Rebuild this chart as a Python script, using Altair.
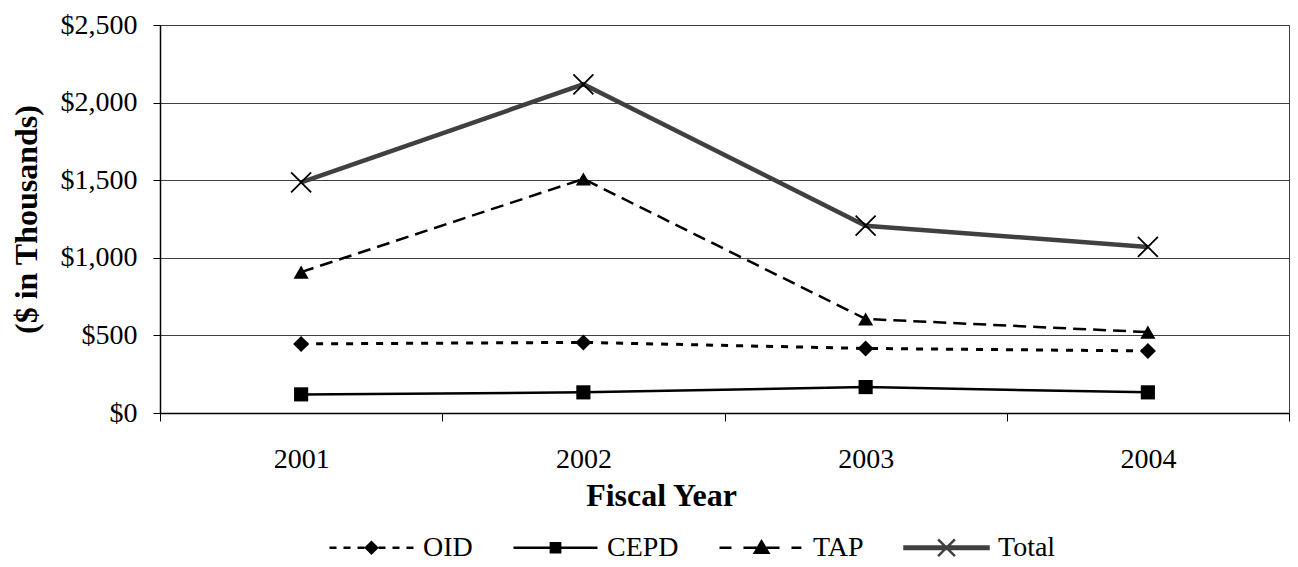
import altair as alt
import pandas as pd

years = ["2001", "2002", "2003", "2004"]
series_names = ["OID", "CEPD", "TAP", "Total"]
oid = [445, 455, 416, 400]
cepd = [120, 133, 167, 133]
tap = [908, 1508, 606, 521]
total = [1486, 2118, 1207, 1070]

values = {"OID": oid, "CEPD": cepd, "TAP": tap, "Total": total}
rows = []
for s in series_names:
    for y, v in zip(years, values[s]):
        rows.append({"year": y, "series": s, "value": v})
df = pd.DataFrame(rows)

FONT = "Liberation Serif"
PLOT_H = 388

x_enc = alt.X(
    "year:O",
    scale=alt.Scale(type="band", paddingInner=0, paddingOuter=0),
    bandPosition=0.5,
    axis=alt.Axis(
        title="Fiscal Year",
        tickBand="extent",
        labelAngle=0,
        labelFont=FONT,
        labelFontSize=28,
        labelColor="black",
        labelBaseline="alphabetic",
        labelPadding=46,
        tickSize=8,
        tickColor="black",
        domainColor="black",
        domainWidth=1.5,
        grid=False,
        titleFont=FONT,
        titleFontSize=32,
        titleFontWeight="bold",
        titleColor="black",
        titleX=501,
        titleY=92,
        titleBaseline="alphabetic",
    ),
)
y_enc = alt.Y(
    "value:Q",
    scale=alt.Scale(domain=[0, 2500]),
    axis=alt.Axis(
        title="($ in Thousands)",
        values=[0, 500, 1000, 1500, 2000, 2500],
        format="$,.0f",
        labelFont=FONT,
        labelFontSize=28,
        labelColor="black",
        labelPadding=16,
        tickSize=7,
        tickColor="black",
        domainColor="black",
        domainWidth=1.5,
        gridColor="#404040",
        gridWidth=1,
        titleFont=FONT,
        titleFontSize=32,
        titleFontWeight="bold",
        titleColor="black",
        titleX=-134,
        titleY=PLOT_H / 2,
        titleBaseline="middle",
    ),
)

base = alt.Chart(df)

line_styles = {
    "OID": dict(color="black", strokeWidth=3, strokeDash=[7, 8]),
    "CEPD": dict(color="black", strokeWidth=2.5),
    "TAP": dict(color="black", strokeWidth=2.5, strokeDash=[13, 7]),
    "Total": dict(color="#404040", strokeWidth=4.5),
}
marker_styles = {
    "OID": dict(shape="diamond", size=256, filled=True, color="black"),
    "CEPD": dict(shape="square", size=200, filled=True, color="black"),
    "TAP": dict(shape="triangle-up", size=230, filled=True, color="black"),
    "Total": dict(shape="M-1,-1L1,1M1,-1L-1,1", size=400, filled=False,
                  color="black", strokeWidth=1.8),
}

layers = []
for s in series_names:
    layers.append(
        base.transform_filter(alt.datum.series == s)
        .mark_line(**line_styles[s])
        .encode(x=x_enc, y=y_enc)
    )
for s in series_names:
    layers.append(
        base.transform_filter(alt.datum.series == s)
        .mark_point(opacity=1, **marker_styles[s])
        .encode(x=x_enc, y=y_enc)
    )

legend_paths = [
    "M-1,0H-0.833M-0.667,0H-0.5M-0.333,0H-0.167M0.167,0H0.333M0.5,0H0.667M0.833,0H1"
    "M-0.13,0L0,-0.13L0.13,0L0,0.13Z",
    "M-1,0H1M-0.11,-0.11H0.11V0.11H-0.11Z",
    "M-1,0H-0.714M-0.43,0H0.43M0.714,0H0.95M-0.16,0.12L0,-0.15L0.16,0.12Z",
    "M-1,-0.03H1V0.03H-1ZM-0.2,-0.2L0.2,0.2M0.2,-0.2L-0.2,0.2",
]
legend_colors = ["black", "black", "black", "#404040"]

legend = alt.Legend(
    title=None,
    orient="none",
    direction="horizontal",
    legendX=168,
    legendY=479,
    padding=0,
    symbolSize=7056,
    symbolStrokeWidth=2.5,
    symbolFillColor="black",
    symbolStrokeColor="black",
    columnPadding=35,
    labelOffset=8,
    labelFont=FONT,
    labelFontSize=28,
    labelColor="black",
)

legend_layer = base.mark_point(filled=True, opacity=0).encode(
    x=x_enc,
    y=y_enc,
    shape=alt.Shape("series:N", scale=alt.Scale(domain=series_names, range=legend_paths), legend=legend),
    fill=alt.Fill("series:N", scale=alt.Scale(domain=series_names, range=legend_colors), legend=legend),
    stroke=alt.Stroke("series:N", scale=alt.Scale(domain=series_names, range=legend_colors), legend=legend),
)
layers.append(legend_layer)

chart = (
    alt.layer(*layers)
    .properties(
        width=1129,
        height=PLOT_H,
        autosize=alt.AutoSizeParams(type="none"),
        padding={"left": 152, "top": 17, "right": 1, "bottom": 160},
    )
    .configure(font=FONT)
    .configure_view(stroke="#404040", strokeWidth=1)
)

chart.save("out.html", embed_options={"renderer": "svg", "actions": False})
